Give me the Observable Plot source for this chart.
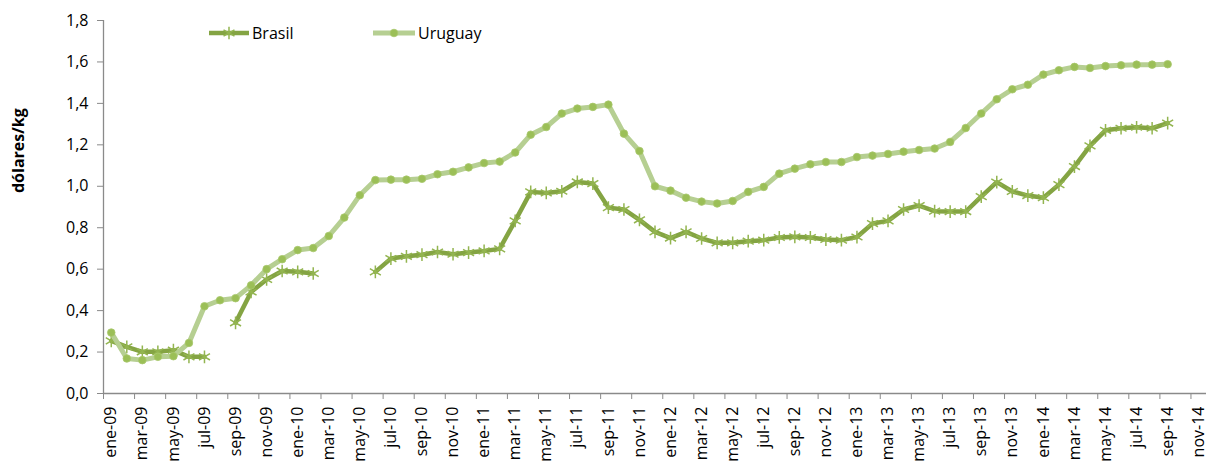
<!DOCTYPE html>
<html><head><meta charset="utf-8">
<script src="https://cdn.jsdelivr.net/npm/d3@7"></script>
<script src="https://cdn.jsdelivr.net/npm/@observablehq/plot@0.6"></script>
<style>
body{margin:0;background:#fff;font-family:"Open Sans",sans-serif;}
#wrap{position:relative;width:1212px;height:464px;overflow:hidden;}
#legend{position:absolute;left:0;top:0;pointer-events:none;}
</style></head><body><div id="wrap"></div>
<script>
const months = ["ene-09","feb-09","mar-09","abr-09","may-09","jun-09","jul-09","ago-09","sep-09","oct-09","nov-09","dic-09",
"ene-10","feb-10","mar-10","abr-10","may-10","jun-10","jul-10","ago-10","sep-10","oct-10","nov-10","dic-10",
"ene-11","feb-11","mar-11","abr-11","may-11","jun-11","jul-11","ago-11","sep-11","oct-11","nov-11","dic-11",
"ene-12","feb-12","mar-12","abr-12","may-12","jun-12","jul-12","ago-12","sep-12","oct-12","nov-12","dic-12",
"ene-13","feb-13","mar-13","abr-13","may-13","jun-13","jul-13","ago-13","sep-13","oct-13","nov-13","dic-13",
"ene-14","feb-14","mar-14","abr-14","may-14","jun-14","jul-14","ago-14","sep-14","oct-14","nov-14"];

const brasil = [0.254,0.225,0.201,0.201,0.209,0.177,0.177,null,0.341,0.490,0.550,0.591,
0.587,0.579,null,null,null,0.587,0.651,0.662,0.670,0.683,0.672,0.680,
0.688,0.698,0.833,0.973,0.968,0.976,1.021,1.013,0.897,0.888,0.838,0.780,
0.750,0.780,0.748,0.727,0.727,0.735,0.740,0.753,0.756,0.753,0.743,0.740,
0.755,0.820,0.833,0.888,0.907,0.880,0.878,0.878,0.950,1.020,0.975,0.955,
0.945,1.008,1.095,1.195,1.270,1.280,1.285,1.280,1.305];

const uruguay = [0.294,0.169,0.161,0.177,0.180,0.244,0.421,0.450,0.460,0.522,0.600,0.648,
0.692,0.702,0.760,0.849,0.957,1.030,1.032,1.032,1.036,1.058,1.070,1.091,
1.112,1.119,1.163,1.249,1.286,1.351,1.375,1.383,1.394,1.254,1.170,1.000,
0.979,0.945,0.926,0.917,0.929,0.973,0.997,1.061,1.085,1.106,1.117,1.117,
1.141,1.148,1.156,1.167,1.175,1.182,1.214,1.281,1.351,1.420,1.468,1.490,
1.539,1.560,1.576,1.571,1.580,1.584,1.587,1.587,1.589];

const yTicks = [0,0.2,0.4,0.6,0.8,1.0,1.2,1.4,1.6,1.8];
const seriesNames = ["Brasil","Uruguay"];

const rows = months.map((m,i)=>({i, pos:i+0.5, m, brasil: brasil[i] ?? null, uruguay: uruguay[i] ?? null}));
const labelPos = months.map((m,i)=>i).filter(i=>i%2===0).map(i=>i+0.5);
const boundaryTicks = d3.range(0, months.length, 2);

const cBrLine = "#84A443", cBrMark = "#93B550", cUyLine = "#B6CF92", cUyMark = "#9BBF57";

const plot = Plot.plot({
  width:1212, height:464, marginLeft:103, marginRight:6, marginTop:20, marginBottom:71,
  style:{fontFamily:"'Open Sans', sans-serif", fontSize:"16px", color:"#000", background:"#fff", overflow:"visible"},
  x:{type:"linear", domain:[0, months.length], axis:null},
  y:{domain:[0,1.8], axis:null},
  marks:[
    Plot.axisY({ticks:yTicks, tickSize:6, tickPadding:9, tickFormat:d=>d.toFixed(1).replace(".",","), stroke:"#8a8a8a", fill:"#000", label:null, fontSize:16}),
    Plot.axisX({ticks:boundaryTicks, tickSize:6, tickFormat:()=>"", stroke:"#8a8a8a", label:null}),
    Plot.axisX({ticks:labelPos, tickSize:0, tickPadding:13, tickRotate:-90, tickFormat:v=>months[Math.round(v-0.5)], fill:"#000", label:null, fontSize:16}),
    Plot.ruleY([0],{stroke:"#8a8a8a", strokeWidth:1.3}),
    Plot.ruleX([0],{stroke:"#8a8a8a", strokeWidth:1.3}),
    Plot.text(["dólares/kg"],{frameAnchor:"left", dx:-85, dy:-14, rotate:-90, fontWeight:"bold", fontSize:16, fill:"#000"}),
    Plot.lineY(rows,{x:"pos", y:"brasil", stroke:cBrLine, strokeWidth:4.5}),
    Plot.dot(rows.filter(d=>d.brasil!=null),{x:"pos", y:"brasil", symbol:"asterisk", r:6, stroke:cBrMark, strokeWidth:1.5}),
    Plot.lineY(rows,{x:"pos", y:"uruguay", stroke:cUyLine, strokeWidth:5}),
    Plot.dot(rows.filter(d=>d.uruguay!=null),{x:"pos", y:"uruguay", r:3.8, fill:cUyMark, stroke:"#A8C86C", strokeWidth:0.8})
  ]
});
const wrap = document.getElementById("wrap");
wrap.appendChild(plot);

// legend
const leg = d3.select(wrap).append("svg").attr("id","legend").attr("width",1212).attr("height",60);
const items = [
  {name:seriesNames[0], x0:209, x1:249, line:cBrLine, w:4.5, type:"asterisk", mark:cBrMark},
  {name:seriesNames[1], x0:373, x1:415, line:cUyLine, w:5, type:"circle", mark:cUyMark}
];
items.forEach(it=>{
  const g = leg.append("g");
  g.append("line").attr("x1",it.x0).attr("x2",it.x1).attr("y1",33).attr("y2",33).attr("stroke",it.line).attr("stroke-width",it.w);
  const cx=(it.x0+it.x1)/2;
  if(it.type==="asterisk"){
    g.append("path").attr("transform",`translate(${cx},33)`).attr("d",d3.symbol(d3.symbolAsterisk, Math.PI*36)()).attr("stroke",it.mark).attr("stroke-width",1.5).attr("fill","none");
  } else {
    g.append("circle").attr("cx",cx).attr("cy",33).attr("r",3.8).attr("fill",it.mark).attr("stroke","#A8C86C").attr("stroke-width",0.8);
  }
  g.append("text").attr("x",it.x1+3).attr("y",33).attr("dy","0.35em").attr("font-family","'Open Sans', sans-serif").attr("font-size",16).attr("fill","#000").text(it.name);
});
</script></body></html>
